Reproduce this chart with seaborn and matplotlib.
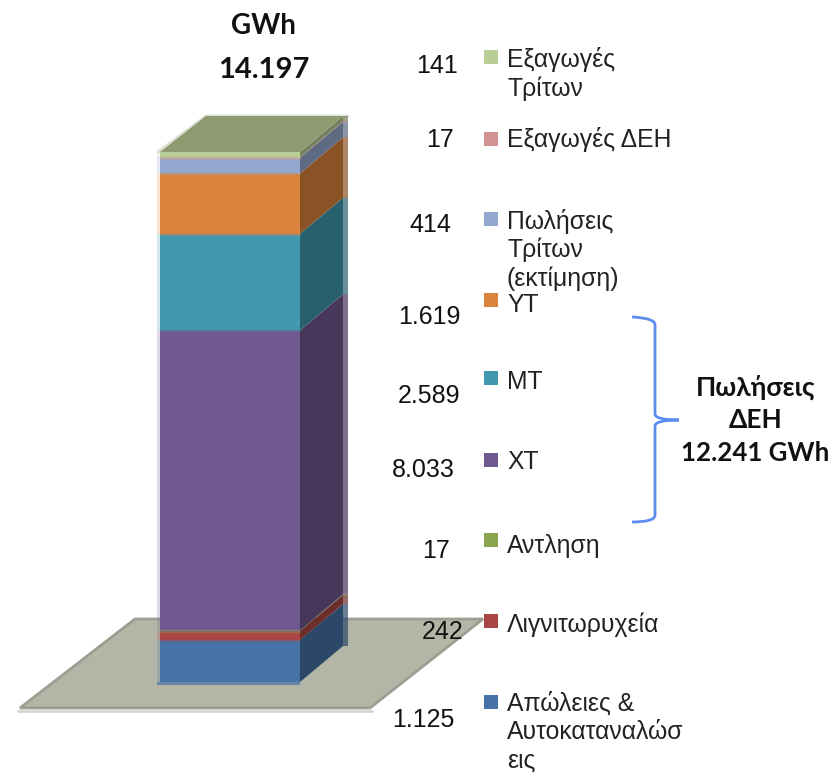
import matplotlib
matplotlib.use("Agg")
import matplotlib.pyplot as plt
from matplotlib.path import Path
from matplotlib.patches import PathPatch
import seaborn as sns
import pandas as pd

# data, bottom of the stack first
series = ['Απώλειες & Αυτοκαταναλώσεις', 'Λιγνιτωρυχεία', 'Αντληση', 'ΧΤ', 'ΜΤ', 'ΥΤ',
          'Πωλήσεις Τρίτων', 'Εξαγωγές ΔΕΗ', 'Εξαγωγές Τρίτων']
values = [1125, 242, 17, 8033, 2589, 1619, 414, 17, 141]
colors = ['#4572A7', '#AA4643', '#89A54E', '#71588F', '#4198AF', '#DB843D',
          '#93A9CF', '#D19392', '#B9CD96']
value_labels = ['1.125', '242', '17', '8.033', '2.589', '1.619', '414', '17', '141']
legend_lines = [['Απώλειες &', 'Αυτοκαταναλώσ', 'εις'], ['Λιγνιτωρυχεία'], ['Αντληση'], ['ΧΤ'], ['ΜΤ'], ['ΥΤ'],
                ['Πωλήσεις', 'Τρίτων', '(εκτίμηση)'], ['Εξαγωγές ΔΕΗ'], ['Εξαγωγές', 'Τρίτων']]

# label positions in pixels
value_x = [423, 443, 436, 423, 429, 429, 430, 440, 437]
value_y = [720, 632, 551, 470, 396, 317, 225, 140, 66]
marker_y = [702, 621, 540, 460, 378, 300, 219, 139, 57]
legend_y = [703, 625, 546, 462, 382, 305, 221, 140, 60]

sns.set_theme(style='white')
plt.rcParams['font.family'] = ['Liberation Sans', 'DejaVu Sans']

W, H = 832, 774
fig = plt.figure(figsize=(W / 100, H / 100), dpi=100)

# pixel axes under the chart for floor, labels and brace
pix = fig.add_axes([0, 0, 1, 1])
pix.set_xlim(0, W)
pix.set_ylim(H, 0)
pix.axis('off')

pix.fill([20, 370, 483, 135], [708, 708, 619, 619], facecolor='#B3B6A6', edgecolor='#9C9E92', lw=2)
pix.plot([18, 372], [711, 711], color='#D6D7CF', lw=2)

for x, y, lab in zip(value_x, value_y, value_labels):
    pix.text(x, y, lab, fontsize=18, color='#111111', ha='center', va='center')

for my, ly, lines, c in zip(marker_y, legend_y, legend_lines, colors):
    pix.scatter([490.5], [my], marker='s', s=90, color=c, linewidths=0)
    for i, line in enumerate(lines):
        pix.text(507, ly + i * 29, line, fontsize=17.8, color='#222222', ha='left', va='center')

bold = ['Lato', 'Noto Sans', 'DejaVu Sans']
pix.text(263, 26, 'GWh', fontsize=20, fontweight='bold', family=bold, ha='center', va='center', color='#111111')
pix.text(264, 70, '14.197', fontsize=21, fontweight='bold', family=bold, ha='center', va='center', color='#111111')
pix.text(756, 387, 'Πωλήσεις', fontsize=19, fontweight='bold', family=bold, ha='center', va='center', color='#111111')
pix.text(756, 420, 'ΔΕΗ', fontsize=19, fontweight='bold', family=bold, ha='center', va='center', color='#111111')
pix.text(755, 453, '12.241 GWh', fontsize=18.6, fontweight='bold', family=bold, ha='center', va='center', color='#111111')

brace = Path([(632, 317), (655, 318), (655, 325), (655, 414), (655, 420), (679, 420),
              (655, 420), (655, 426), (655, 515), (655, 522), (632, 522)],
             [Path.MOVETO, Path.CURVE3, Path.CURVE3, Path.LINETO, Path.CURVE3, Path.CURVE3,
              Path.CURVE3, Path.CURVE3, Path.LINETO, Path.CURVE3, Path.CURVE3])
pix.add_patch(PathPatch(brace, facecolor='none', edgecolor='#5B8DEF', lw=2))

# chart axes on top, stacked column from cumulative totals
ax = fig.add_axes([0, 0, 1, 1])
ax.patch.set_alpha(0)

tops = pd.Series(values).cumsum().tolist()
df = pd.DataFrame({'total': 'GWh', 'series': series, 'top': tops})
sns.barplot(data=df, x='total', y='top', hue='series', hue_order=series[::-1],
            palette=dict(zip(series, colors)), dodge=False, width=0.8, saturation=1,
            legend=False, linewidth=0, edgecolor='none', ax=ax)

px_x = 175.0
px_y = 530.0 / tops[-1]
ax.set_xlim(-230 / px_x, (W - 230) / px_x)
ax.set_ylim(-(H - 682) / px_y, 682 / px_y)
ax.axis('off')


def darker(c, k=0.63):
    r, g, b = matplotlib.colors.to_rgb(c)
    return (r * k, g * k, b * k)


# side and top faces, from the same cumulative totals
half = 0.4
dx = 43 / px_x
dy = 36 / px_y
fringe = 5 / px_x
left = 3 / px_x
bases = [0] + tops[:-1]
for lo, hi, c in zip(bases, tops, colors):
    ax.fill([half, half + dx, half + dx, half], [lo, lo + dy, hi + dy, hi], color=darker(c), lw=0, zorder=3)
    ax.fill([half + dx, half + dx + fringe, half + dx + fringe, half + dx], [lo + dy, lo + dy, hi + dy, hi + dy],
            color=darker(c), alpha=0.7, lw=0, zorder=3)
    ax.fill([-half - left, -half, -half, -half - left], [lo, lo, hi, hi], color=c, alpha=0.22, lw=0, zorder=3)

# thin blended row where two segments meet
for hi, c_up, c_low in zip(tops[:-1], colors[1:], colors[:-1]):
    ax.plot([-half, half], [hi, hi], color=c_up, alpha=0.45, lw=2, solid_capstyle='butt', zorder=3)

ax.fill([-half, half, half + dx, -half + dx + 3 / px_x], [tops[-1], tops[-1], tops[-1] + dy, tops[-1] + dy],
        color='#8E9B71', lw=0, zorder=4)
ax.plot([-half - 2 / px_x, -half + dx + 3 / px_x, half + dx + fringe], [tops[-1], tops[-1] + dy, tops[-1] + dy],
        color='#DDDFD2', lw=2, zorder=2)
ax.fill([-half - left, half, half, -half - left], [0, 0, -3 / px_y, -3 / px_y], color=colors[0], alpha=0.7, lw=0, zorder=3)

fig.savefig('out.png', dpi=100)
